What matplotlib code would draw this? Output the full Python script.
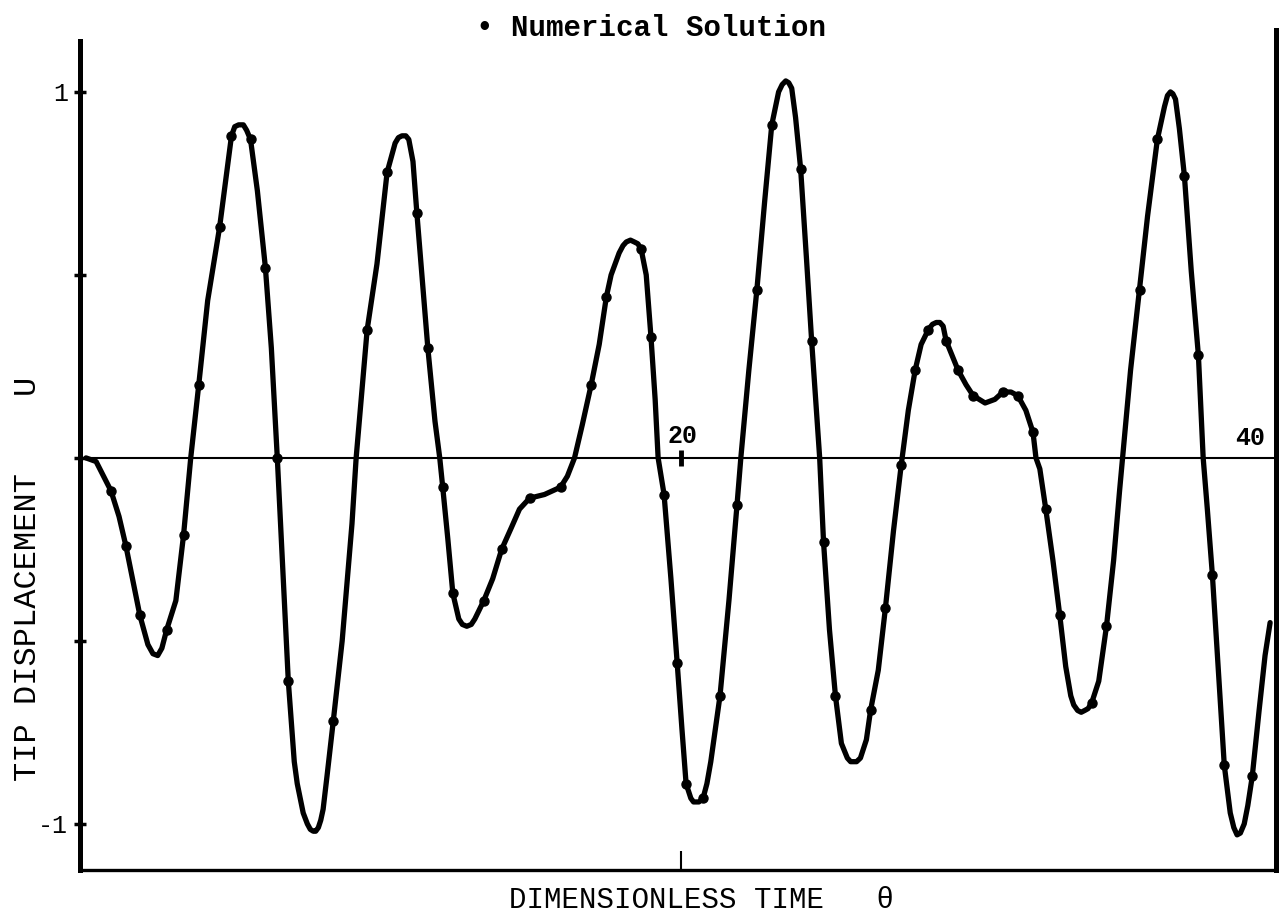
import matplotlib
matplotlib.use("Agg")
import matplotlib.pyplot as plt

# ── curve (theta, U)
theta = [0, 0.34, 0.84, 1.11, 1.34, 1.81, 2.08, 2.25, 2.41, 2.55, 2.71, 3.02, 3.28, 3.52, 3.79,
         4.09, 4.49, 4.76, 4.89, 5.0, 5.13, 5.29, 5.4, 5.53, 5.76, 6.03, 6.23, 6.43, 6.63,
         6.80, 7.0, 7.1, 7.2, 7.3, 7.44, 7.54, 7.64, 7.72, 7.81, 7.89, 7.97, 8.1, 8.31, 8.61,
         8.94, 9.08, 9.45, 9.78, 10.12, 10.39, 10.5, 10.62, 10.75, 10.85, 10.99, 11.12,
         11.32, 11.49, 11.73, 11.89, 11.99, 12.16, 12.33, 12.53, 12.65, 12.80, 12.95, 13.07,
         13.37, 13.67, 13.97, 14.30, 14.57, 14.91, 15.41, 15.95, 16.18, 16.42, 16.68, 16.98,
         17.25, 17.49, 17.65, 17.92, 18.05, 18.16, 18.3, 18.43, 18.55, 18.66, 18.83, 18.99,
         19.13, 19.23, 19.43, 19.66, 19.87, 20.03, 20.17, 20.33, 20.42, 20.50, 20.6, 20.74,
         20.87, 21.0, 21.31, 21.61, 21.88, 22.01, 22.28, 22.55, 22.81, 23.05, 23.28, 23.4,
         23.52, 23.62, 23.72, 23.85, 24.02, 24.22, 24.39, 24.66, 24.79, 24.99, 25.19, 25.39,
         25.59, 25.7, 25.80, 25.9, 26.03, 26.23, 26.37, 26.63, 26.87, 27.14, 27.40, 27.64,
         27.87, 28.07, 28.31, 28.45, 28.58, 28.7, 28.81, 28.91, 29.11, 29.31, 29.58, 29.82,
         30.22, 30.55, 30.82, 31.09, 31.32, 31.59, 31.83, 31.93, 32.06, 32.26, 32.50, 32.73,
         32.93, 33.10, 33.2, 33.33, 33.45, 33.57, 33.68, 33.80, 34.04, 34.30, 34.54, 34.74,
         34.84, 35.11, 35.41, 35.68, 36.01, 36.25, 36.35, 36.45, 36.53, 36.62, 36.75, 36.92,
         37.15, 37.39, 37.55, 37.69, 37.86, 38.06, 38.26, 38.46, 38.58, 38.69, 38.8, 38.93,
         39.05, 39.20, 39.43, 39.63, 39.80]
tip_u = [0, -0.01, -0.09, -0.16, -0.24, -0.43, -0.51, -0.535, -0.54, -0.52, -0.47, -0.39, -0.21,
         0, 0.20, 0.43, 0.63, 0.80, 0.88, 0.905, 0.91, 0.91, 0.895, 0.87, 0.73, 0.52, 0.30,
         0.0, -0.33, -0.61, -0.83, -0.89, -0.93, -0.97, -1.0, -1.015, -1.02, -1.02, -1.01,
         -0.99, -0.96, -0.87, -0.72, -0.50, -0.18, 0, 0.35, 0.53, 0.78, 0.86, 0.875, 0.88,
         0.88, 0.87, 0.81, 0.67, 0.47, 0.30, 0.10, 0, -0.08, -0.22, -0.37, -0.44, -0.455,
         -0.46, -0.455, -0.44, -0.39, -0.33, -0.25, -0.19, -0.14, -0.11, -0.10, -0.08, -0.05,
         0, 0.09, 0.20, 0.31, 0.44, 0.50, 0.56, 0.58, 0.59, 0.595, 0.59, 0.585, 0.57, 0.50,
         0.33, 0.16, 0, -0.10, -0.33, -0.56, -0.74, -0.89, -0.93, -0.94, -0.94, -0.94, -0.93,
         -0.89, -0.83, -0.65, -0.39, -0.13, 0, 0.24, 0.46, 0.70, 0.91, 1.00, 1.02, 1.03,
         1.025, 1.01, 0.93, 0.79, 0.54, 0.32, 0, -0.23, -0.47, -0.65, -0.78, -0.82, -0.83,
         -0.83, -0.83, -0.82, -0.77, -0.69, -0.58, -0.41, -0.20, -0.02, 0.13, 0.24, 0.31,
         0.35, 0.365, 0.37, 0.37, 0.36, 0.32, 0.28, 0.24, 0.20, 0.17, 0.15, 0.16, 0.18, 0.18,
         0.17, 0.13, 0.07, 0, -0.03, -0.14, -0.28, -0.43, -0.57, -0.65, -0.675, -0.69,
         -0.695, -0.69, -0.685, -0.67, -0.61, -0.46, -0.28, -0.09, 0, 0.24, 0.46, 0.66, 0.87,
         0.96, 0.99, 1.00, 0.995, 0.98, 0.90, 0.77, 0.51, 0.28, 0, -0.14, -0.32, -0.58,
         -0.84, -0.97, -1.01, -1.03, -1.025, -1.00, -0.95, -0.87, -0.69, -0.54, -0.45]

# ── numerical solution dots
dot_theta = [0.84, 1.34, 1.81, 2.71, 3.28, 3.79, 4.49, 4.89, 5.53, 6.03, 6.43, 6.80, 8.31,
             9.45, 10.12, 11.12, 11.49, 11.99, 12.33, 13.37, 13.97, 14.91, 15.95, 16.98,
             17.49, 18.66, 18.99, 19.43, 19.87, 20.17, 20.74, 21.31, 21.88, 22.55, 23.05,
             24.02, 24.39, 24.79, 25.19, 26.37, 26.87, 27.40, 27.87, 28.31, 28.91, 29.31,
             29.82, 30.82, 31.32, 31.83, 32.26, 32.73, 33.80, 34.30, 35.41, 36.01, 36.92,
             37.39, 37.86, 38.26, 39.20]
dot_u = [-0.09, -0.24, -0.43, -0.47, -0.21, 0.20, 0.63, 0.88, 0.87, 0.52, 0, -0.61, -0.72,
         0.35, 0.78, 0.67, 0.30, -0.08, -0.37, -0.39, -0.25, -0.11, -0.08, 0.20,
         0.44, 0.57, 0.33, -0.10, -0.56, -0.89, -0.93, -0.65, -0.13, 0.46, 0.91,
         0.79, 0.32, -0.23, -0.65, -0.69, -0.41, -0.02, 0.24, 0.35, 0.32, 0.24,
         0.17, 0.18, 0.17, 0.07, -0.14, -0.43, -0.67, -0.46, 0.46, 0.87, 0.77,
         0.28, -0.32, -0.84, -0.87]

y_ticks = [-1, -0.5, 0, 0.5, 1]
y_labels = ["-1", "", "", "", "1"]
axis_ticks = [20, 40]

FONT = ["Liberation Mono", "DejaVu Sans Mono"]
plt.rcParams["font.family"] = FONT

fig = plt.figure(figsize=(12.87, 9.19), dpi=100)
ax = fig.add_axes([0.0622, 0.0533, 0.9293, 0.914])

# ── zero line + curve
ax.hlines(0, theta[0], axis_ticks[-1], color="black", lw=1.5, zorder=1)
ax.plot(theta, tip_u, color="black", lw=3.8, solid_capstyle="round",
        solid_joinstyle="round", zorder=2)
ax.plot(dot_theta, dot_u, "o", color="black", ms=6.5, zorder=3)

# tick labels sitting on the zero line
ax.plot(axis_ticks[0], 0, marker="|", color="black", ms=12, mew=3.5, zorder=3)
ax.annotate(str(axis_ticks[0]), (axis_ticks[0], 0), xytext=(1, 7), textcoords="offset points",
            ha="center", va="bottom", fontsize=18, fontweight="bold")
ax.annotate(str(axis_ticks[1]), (axis_ticks[1], 0), xytext=(-8, 6), textcoords="offset points",
            ha="right", va="bottom", fontsize=18, fontweight="bold")

ax.set_xlim(-0.2, 40.0)
ax.set_ylim(-1.126, 1.169)

ax.spines["top"].set_visible(False)
for side in ("left", "right"):
    ax.spines[side].set_linewidth(3.6)
ax.spines["bottom"].set_linewidth(2.4)
ax.spines["left"].set_bounds(-1.126, 1.14)

ax.set_yticks(y_ticks)
ax.set_yticklabels(y_labels)
ax.tick_params(axis="y", direction="inout", length=9, width=2.5, pad=4, labelsize=18)
ax.set_xticks(axis_ticks[:1])
ax.set_xticklabels([""])
ax.tick_params(axis="x", direction="in", length=14, width=1.5)

fig.text(0.0215, 0.37, "TIP DISPLACEMENT    U", rotation=90, ha="center", va="center",
         fontsize=23)
fig.text(0.545, 0.021, "DIMENSIONLESS TIME   \u03b8", ha="center", va="center", fontsize=21)
fig.text(0.506, 0.969, "\u2022 Numerical Solution", ha="center", va="center", fontsize=21,
         fontweight="bold")

fig.savefig("out.png", dpi=100)
